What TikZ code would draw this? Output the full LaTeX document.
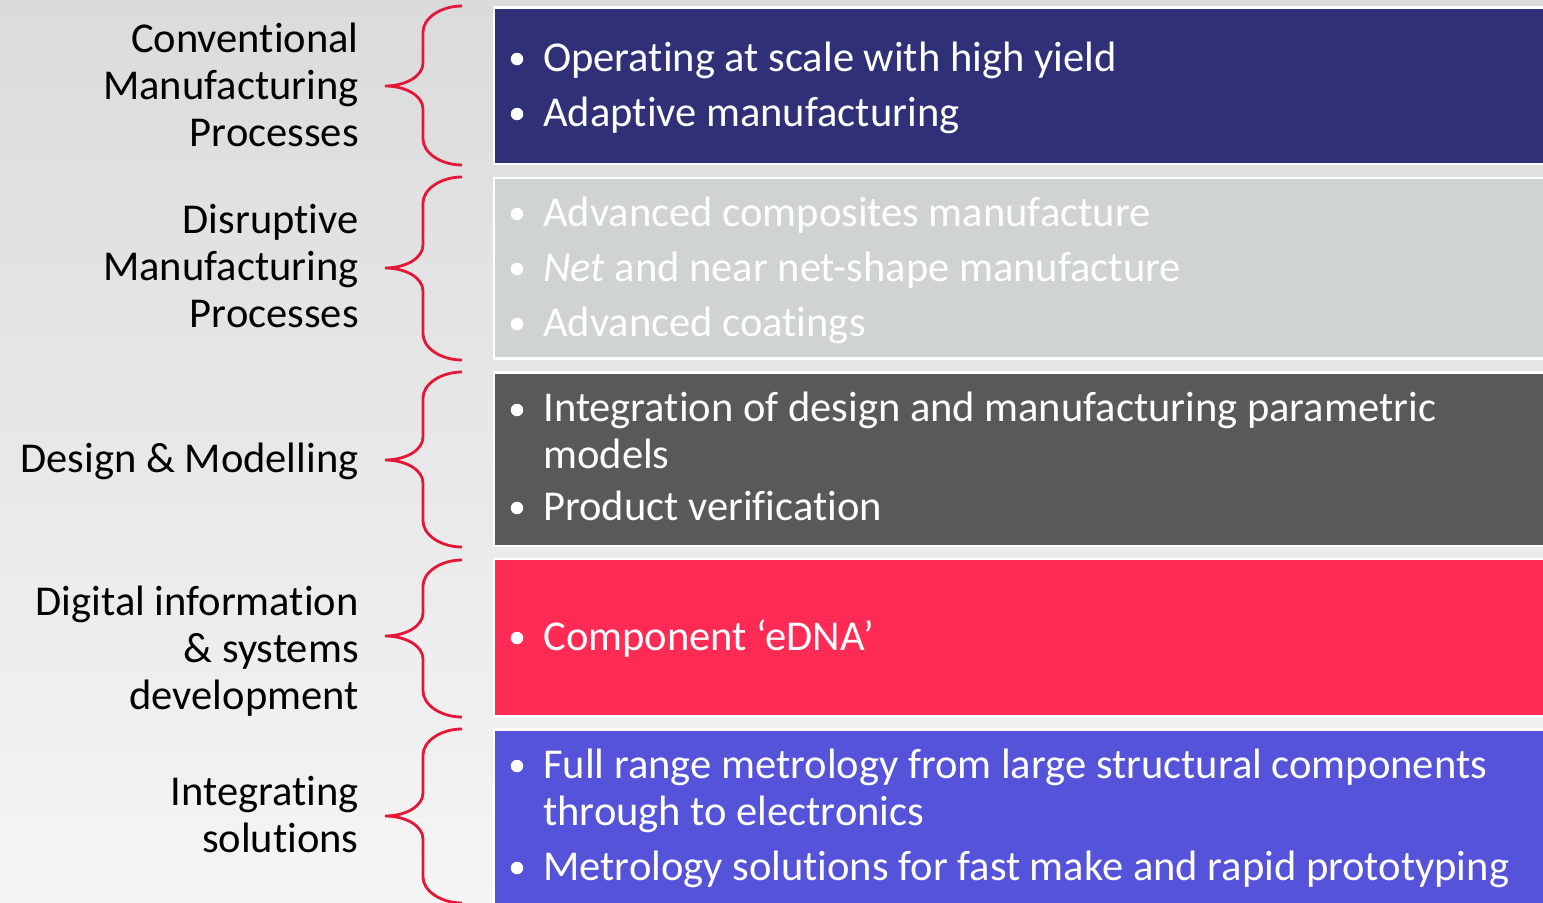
\documentclass[tikz,border=0pt]{standalone}
\usepackage{fontspec}
\setmainfont{Carlito}[RawFeature={-liga;-clig;-calt}]

\definecolor{navyband}{RGB}{47,48,119}
\definecolor{mistband}{RGB}{208,211,212}
\definecolor{slateband}{RGB}{89,89,89}
\definecolor{roseband}{RGB}{255,43,85}
\definecolor{violetband}{RGB}{85,83,217}
\definecolor{bracered}{RGB}{227,24,55}

\newcommand{\labelsize}{\fontsize{24.2}{26.6}\selectfont}
\newcommand{\itemsize}{\fontsize{24.2}{26.6}\selectfont}

% curly brace: top y, tip y, bottom y
\newcommand{\sidebrace}[3]{%
  \draw[curly] (462,#1) .. controls (441,#1) and (423,{#1+12}) .. (423,{#1+26})
    -- (423,{#2-23}) .. controls (423,{#2-10}) and (406,#2) .. (385,#2)
    .. controls (406,#2) and (423,{#2+10}) .. (423,{#2+23})
    -- (423,{#3-26}) .. controls (423,{#3-12}) and (441,#3) .. (462,#3);}

\begin{document}
\begin{tikzpicture}[
    x=0.02cm, y=-0.02cm,
    lbl/.style={anchor=base east, align=right, inner sep=0pt, font=\labelsize},
    itm/.style={anchor=base west, align=left, inner sep=0pt, text=white, font=\itemsize},
    dot/.style={circle, fill=white, inner sep=0pt, minimum size=0.25cm},
    band/.style={draw=white, line width=1.7pt},
    curly/.style={draw=bracered, line width=1.6pt}
]

% --- Background ---
\shade[top color={rgb,255:red,219;green,219;blue,219},
       bottom color={rgb,255:red,245;green,245;blue,245}]
    (0,0) rectangle (1543,903);
\useasboundingbox (0,0) rectangle (1543,903);
\clip (0,0) rectangle (1543,903);

% --- Coloured bands ---
\foreach \top/\bot/\col in {7.5/164/navyband, 178/358.5/mistband,
    372.5/546/slateband, 559/716/roseband, 729/920/violetband} {
    \filldraw[band, fill=\col] (494,\top) rectangle (1600,\bot);
}

% --- Braces ---
\sidebrace{6}{86}{165}
\sidebrace{177}{268}{360}
\sidebrace{372}{460}{547}
\sidebrace{560}{636}{717}
\sidebrace{729}{816}{903}

% --- Row labels (placed by their last line) ---
\node[lbl] (conv) at (359,146) {Conventional\\Manufacturing\\Processes};
\node[lbl] (disr) at (359,327) {Disruptive\\Manufacturing\\Processes};
\node[lbl] (desg) at (359,472) {Design \& Modelling};
\node[lbl] (digi) at (359,709) {Digital information\\\& systems\\development};
\node[lbl] (intg) at (359,852) {Integrating\\solutions};

% --- Bullet points: first baseline / last baseline ---
\foreach \nm/\y/\yb/\txt in {
    opsc/71/71/{Operating at scale with high yield},
    adpt/126/126/{Adaptive manufacturing},
    comp/226/226/{Advanced composites manufacture},
    nets/281/281/{\textit{Net} and near net-shape manufacture},
    coat/336/336/{Advanced coatings},
    dsmd/422/468/{Integration of design and manufacturing parametric\\models},
    verf/520/520/{Product verification},
    edna/650/650/{Component ‘eDNA’},
    metr/778/825/{Full range metrology from large structural components\\through to electronics},
    fast/880/880/{Metrology solutions for fast make and rapid prototyping}} {
    \node[dot] (\nm-dot) at (517,\y-12) {};
    \node[itm] (\nm) at (543,\yb) {\txt};
}

\end{tikzpicture}
\end{document}
